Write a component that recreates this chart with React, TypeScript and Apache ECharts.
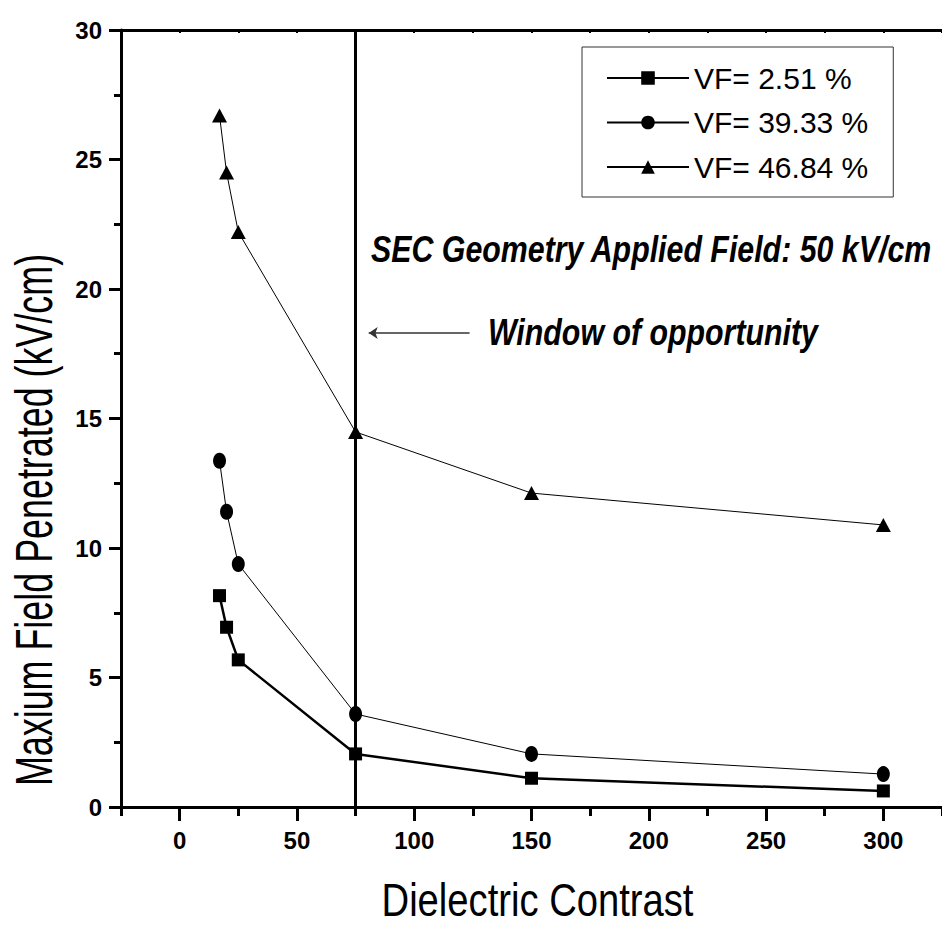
import React, { useEffect, useRef } from "react";
import * as echarts from "echarts";

// ---- data ----
const contrast = [17, 20, 25, 75, 150, 300];
const vf251 = [8.16, 6.94, 5.68, 2.05, 1.11, 0.62];
const vf3933 = [13.37, 11.4, 9.38, 3.59, 2.05, 1.27];
const vf4684 = [26.7, 24.5, 22.2, 14.48, 12.12, 10.89];
const seriesNames = ["VF= 2.51 %", "VF= 39.33 %", "VF= 46.84 %"];
const xMajorTicks = [0, 50, 100, 150, 200, 250, 300];
const xMinorTicks = [-25, 25, 75, 125, 175, 225, 275, 325];
const windowContrast = 75;

const FONT = "'Liberation Sans', Arial, Helvetica, sans-serif";

export default function App() {
  const ref = useRef<HTMLDivElement>(null);

  useEffect(() => {
    const chart = echarts.init(ref.current as HTMLDivElement, null, { renderer: "svg" });
    const pair = (ys: number[]) => contrast.map((x, i) => [x, ys[i]]);
    const black = "#000";

    chart.setOption({
      animation: false,
      backgroundColor: "#fff",
      grid: { left: 121, top: 30, right: -8.25, bottom: 120, containLabel: false },
      legend: {
        orient: "vertical",
        left: 582,
        top: 47,
        padding: [16, 25, 15, 24],
        itemWidth: 82,
        itemHeight: 17,
        itemGap: 14.5,
        borderColor: "#333",
        borderWidth: 1,
        textStyle: { fontSize: 30, fontFamily: FONT, color: black },
        data: seriesNames,
      },
      xAxis: [
        {
          type: "value",
          min: -25,
          max: 325,
          interval: 25,
          position: "bottom",
          axisLine: { show: true, onZero: false, lineStyle: { color: black, width: 3 } },
          axisTick: { show: true, length: 14, customValues: xMajorTicks, lineStyle: { color: black, width: 3 } },
          axisLabel: {
            show: true,
            customValues: xMajorTicks,
            margin: 21,
            fontSize: 24,
            fontWeight: "bold",
            fontFamily: FONT,
            color: black,
          },
          splitLine: { show: false },
        },
        {
          type: "value",
          min: -25,
          max: 325,
          interval: 25,
          position: "bottom",
          axisLine: { show: false, onZero: false },
          axisTick: { show: true, length: 9, customValues: xMinorTicks, lineStyle: { color: black, width: 3 } },
          axisLabel: { show: false },
          splitLine: { show: false },
        },
        {
          type: "value",
          min: -25,
          max: 325,
          interval: 25,
          position: "top",
          axisLine: { show: true, onZero: false, lineStyle: { color: black, width: 3 } },
          axisTick: { show: true, inside: true, length: 3, lineStyle: { color: black, width: 2 } },
          axisLabel: { show: false },
          splitLine: { show: false },
        },
      ],
      yAxis: {
        type: "value",
        min: 0,
        max: 30,
        interval: 5,
        axisLine: { show: true, onZero: false, lineStyle: { color: black, width: 3 } },
        axisTick: { show: true, length: 12, lineStyle: { color: black, width: 3 } },
        minorTick: { show: true, splitNumber: 2, length: 7, lineStyle: { color: black, width: 3 } },
        axisLabel: { margin: 19, fontSize: 24, fontWeight: "bold", fontFamily: FONT, color: black },
        splitLine: { show: false },
      },
      series: [
        {
          name: seriesNames[0],
          type: "line",
          data: pair(vf251),
          symbol: "rect",
          symbolSize: 13,
          lineStyle: { color: black, width: 2.5 },
          itemStyle: { color: black },
          z: 4,
          markLine: {
            silent: true,
            symbol: ["none", "none"],
            label: { show: false },
            lineStyle: { color: black, width: 3, type: "solid" },
            data: [{ xAxis: windowContrast }],
          },
        },
        {
          name: seriesNames[1],
          type: "line",
          data: pair(vf3933),
          symbol: "circle",
          symbolSize: [13, 16],
          lineStyle: { color: black, width: 1 },
          itemStyle: { color: black },
          z: 4,
          markLine: {
            silent: true,
            symbol: ["none", "arrow"],
            symbolSize: 9,
            label: { show: false },
            lineStyle: { color: "#333", width: 1.5, type: "solid" },
            data: [[{ coord: [123.6, 18.3] }, { coord: [80.6, 18.3] }]],
          },
        },
        {
          name: seriesNames[2],
          type: "line",
          data: pair(vf4684),
          symbol: "triangle",
          symbolSize: [15, 14],
          lineStyle: { color: black, width: 1 },
          itemStyle: { color: black },
          z: 4,
        },
      ],
      graphic: [
        {
          type: "text",
          x: 34,
          y: 520,
          rotation: Math.PI / 2,
          scaleX: 0.69,
          style: {
            text: "Maxium Field Penetrated (kV/cm)",
            fontSize: 52,
            fontFamily: FONT,
            fill: black,
            align: "center",
            verticalAlign: "middle",
          },
        },
        {
          type: "text",
          x: 537.5,
          y: 900,
          scaleX: 0.83,
          style: {
            text: "Dielectric Contrast",
            fontSize: 46,
            lineHeight: 40,
            fontFamily: FONT,
            fill: black,
            align: "center",
            verticalAlign: "middle",
          },
        },
        {
          type: "text",
          x: 371,
          y: 249,
          scaleX: 0.82,
          style: {
            text: "SEC Geometry Applied Field: 50 kV/cm",
            fontSize: 37,
            fontWeight: "bold",
            fontStyle: "italic",
            fontFamily: FONT,
            fill: black,
            align: "left",
            verticalAlign: "middle",
          },
        },
        {
          type: "text",
          x: 488,
          y: 332,
          scaleX: 0.82,
          style: {
            text: "Window of opportunity",
            fontSize: 37,
            fontWeight: "bold",
            fontStyle: "italic",
            fontFamily: FONT,
            fill: black,
            align: "left",
            verticalAlign: "middle",
          },
        },
      ],
    });

    return () => chart.dispose();
  }, []);

  return (
    <div
      ref={ref}
      style={{ position: "absolute", left: 0, top: 0, width: 942, height: 927, background: "#fff" }}
    />
  );
}
